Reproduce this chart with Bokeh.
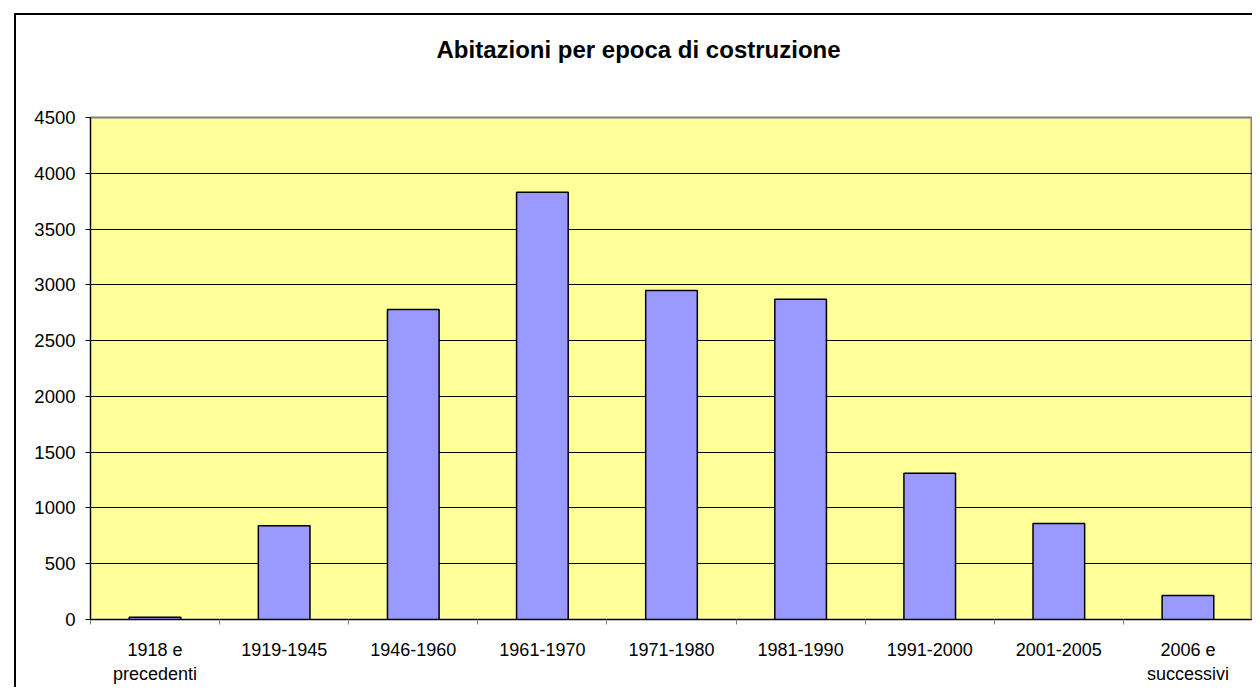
from bokeh.plotting import figure
from bokeh.models import FixedTicker, Range1d, Title
from bokeh.embed import file_html
from bokeh.resources import INLINE

categories = ["1918 e\nprecedenti", "1919-1945", "1946-1960", "1961-1970", "1971-1980",
              "1981-1990", "1991-2000", "2001-2005", "2006 e\nsuccessivi"]
values = [20, 840, 2780, 3830, 2950, 2870, 1310, 860, 215]
y_ticks = [0, 500, 1000, 1500, 2000, 2500, 3000, 3500, 4000, 4500]
chart_title = "Abitazioni per epoca di costruzione"

n = len(categories)
xs = [i + 0.5 for i in range(n)]

FONT = "Liberation Sans"

p = figure(width=1252, height=687, output_backend="svg", toolbar_location=None,
           x_range=Range1d(0, n), y_range=Range1d(0, 4500),
           min_border_left=90, min_border_right=0, min_border_top=117, min_border_bottom=68)
# outer chart-area border (left/top edges; right/bottom lie beyond the window)
p.styles = {
    "background": ("linear-gradient(#000, #000) 14px 13px / 2px 100% no-repeat, "
                   "linear-gradient(#000, #000) 14px 13px / 100% 2px no-repeat, white"),
}

p.background_fill_color = "#FFFF99"
p.border_fill_color = None
p.outline_line_color = "#808080"
p.outline_line_width = 2

p.vbar(x=xs, top=values, width=0.4, bottom=0, fill_color="#9999FF",
       line_color="black", line_width=1.5)

# axes
p.xaxis.ticker = FixedTicker(ticks=xs, minor_ticks=list(range(n + 1)))
p.xaxis.major_label_overrides = {x: c for x, c in zip(xs, categories)}
p.xaxis.major_tick_out = 0
p.xaxis.major_tick_in = 0
p.xaxis.minor_tick_out = 5
p.xaxis.minor_tick_in = 0
p.xaxis.minor_tick_line_color = "#808080"
p.xaxis.axis_line_color = "black"
p.xaxis.major_label_standoff = 15
p.xaxis.major_label_text_font = FONT
p.xaxis.major_label_text_font_size = "18px"
p.xaxis.major_label_text_color = "black"

p.yaxis.ticker = FixedTicker(ticks=y_ticks, minor_ticks=[])
p.yaxis.major_tick_out = 5
p.yaxis.major_tick_in = 0
p.yaxis.axis_line_color = "black"
p.yaxis.major_label_standoff = 10
p.yaxis.major_label_text_font = FONT
p.yaxis.major_label_text_font_size = "18.5px"
p.yaxis.major_label_text_color = "black"

p.xgrid.grid_line_color = None
p.ygrid.ticker = FixedTicker(ticks=y_ticks[1:-1])
p.ygrid.grid_line_color = "black"
p.ygrid.grid_line_width = 1

spacer_title = Title(text=" ", text_font=FONT, text_font_size="10px", standoff=37)
p.add_layout(spacer_title, "above")
title = Title(text=chart_title, align="left", offset=346,
              text_font=FONT, text_font_size="24px", text_font_style="bold",
              text_color="black", standoff=10)
p.add_layout(title, "above")

open("out.html", "w").write(file_html(p, INLINE))
